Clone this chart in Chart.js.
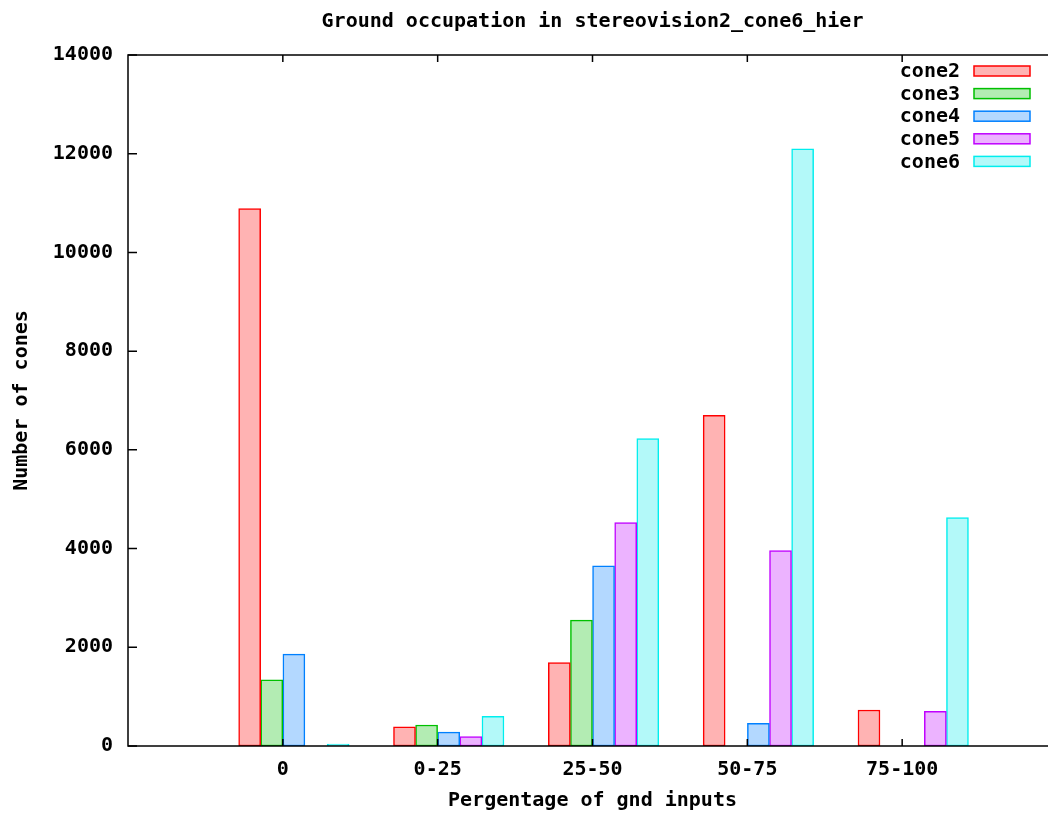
<!DOCTYPE html>
<html>
<head>
<meta charset="utf-8">
<script src="https://cdn.jsdelivr.net/npm/chart.js@4.4.0/dist/chart.umd.min.js"></script>
<style>
  html, body { margin: 0; padding: 0; overflow: hidden; background: #fff; }
  #wrap { width: 1060px; height: 817px; }
</style>
</head>
<body>
<div id="wrap"><canvas id="myChart"></canvas></div>
<script>
// data
let categories = ['0', '0-25', '25-50', '50-75', '75-100'];
let seriesNames = ['cone2', 'cone3', 'cone4', 'cone5', 'cone6'];
let cone2 = [10890, 390, 1690, 6700, 730];
let cone3 = [1340, 425, 2550, 0, 0];
let cone4 = [1860, 280, 3650, 460, 0];
let cone5 = [0, 190, 4525, 3960, 700];
let cone6 = [40, 600, 6230, 12100, 4630];
let yTicks = [0, 2000, 4000, 6000, 8000, 10000, 12000, 14000];

let seriesValues = [cone2, cone3, cone4, cone5, cone6];
let lineColors = ['#ff0000', '#00c000', '#0080ff', '#c000ff', '#00eeee'];
let fillColors = ['#ffb3b3', '#b3ecb3', '#b3d8ff', '#ecb3ff', '#b3f9f9'];

const font = { family: "'DejaVu Sans Mono', monospace", size: 20, weight: 'bold', lineHeight: 1.2 };

// gnuplot clustered histogram: 5 boxes + gap of 2 per unit
let datasets = seriesNames.map(function (name, k) {
    return {
        label: name,
        data: seriesValues[k].map((v, i) => ({ x: i + (k - 1.5) / 7, y: v })),
        backgroundColor: fillColors[k],
        borderColor: lineColors[k],
        borderWidth: 1.5,
        borderSkipped: false,
        grouped: false,
        barThickness: 22
    };
});

// box around the plot with inward ticks on all sides
const framePlugin = {
    id: 'frame',
    afterDatasetsDraw(chart) {
        const { ctx, chartArea: a, scales } = chart;
        ctx.save();
        ctx.strokeStyle = '#000';
        ctx.lineWidth = 1.5;
        ctx.beginPath();
        yTicks.forEach(function (v) {
            let py = scales.y.getPixelForValue(v);
            ctx.moveTo(a.left, py); ctx.lineTo(a.left + 9, py);
            ctx.moveTo(a.right, py); ctx.lineTo(a.right - 9, py);
        });
        categories.forEach(function (c, i) {
            let px = scales.x.getPixelForValue(i);
            ctx.moveTo(px, a.bottom); ctx.lineTo(px, a.bottom - 7);
            ctx.moveTo(px, a.top); ctx.lineTo(px, a.top + 7);
        });
        ctx.stroke();
        ctx.strokeRect(a.left, a.top, a.right - a.left, a.bottom - a.top);
        ctx.restore();
    }
};

// gnuplot style key, top right inside the plot
const keyPlugin = {
    id: 'key',
    afterDatasetsDraw(chart) {
        const { ctx, chartArea: a } = chart;
        const boxRight = a.right - 27, boxW = 56, boxH = 10;
        ctx.save();
        ctx.font = 'bold 20px "DejaVu Sans Mono"';
        ctx.textAlign = 'right';
        ctx.textBaseline = 'middle';
        ctx.fillStyle = '#000';
        chart.data.datasets.forEach(function (ds, k) {
            let cy = a.top + 16 + k * 22.6;
            ctx.fillText(ds.label, boxRight - boxW - 14, cy + 1);
            ctx.fillStyle = ds.backgroundColor;
            ctx.fillRect(boxRight - boxW, cy - boxH / 2, boxW, boxH);
            ctx.strokeStyle = ds.borderColor;
            ctx.lineWidth = 1.5;
            ctx.strokeRect(boxRight - boxW, cy - boxH / 2, boxW, boxH);
            ctx.fillStyle = '#000';
        });
        ctx.restore();
    }
};

new Chart('myChart', {
    type: 'bar',
    data: { datasets: datasets },
    options: {
        responsive: true,
        maintainAspectRatio: false,
        animation: false,
        layout: { padding: { left: 0, right: 3, top: 0, bottom: 0 } },
        plugins: {
            legend: { display: false },
            tooltip: { enabled: false },
            title: {
                display: true,
                text: 'Ground occupation in stereovision2_cone6_hier',
                fullSize: false,
                color: '#000',
                font: font,
                padding: { top: 10, bottom: 21 }
            }
        },
        scales: {
            x: {
                type: 'linear',
                min: -1,
                max: 5,
                offset: false,
                grid: { display: false, drawTicks: false, offset: false },
                border: { display: false },
                afterBuildTicks(scale) {
                    scale.ticks = categories.map((c, i) => ({ value: i }));
                },
                afterFit(scale) { scale.height = 71; },
                ticks: {
                    autoSkip: false,
                    maxRotation: 0,
                    padding: 12,
                    color: '#000',
                    font: font,
                    callback: (v) => categories[v]
                },
                title: {
                    display: true,
                    text: 'Pergentage of gnd inputs',
                    color: '#000',
                    font: font,
                    padding: { top: 0, bottom: 4 }
                }
            },
            y: {
                min: 0,
                max: 14000,
                grid: { display: false, drawTicks: false },
                border: { display: false },
                afterBuildTicks(scale) {
                    scale.ticks = yTicks.map(v => ({ value: v }));
                },
                afterFit(scale) { scale.width = 128; },
                ticks: {
                    padding: 15,
                    color: '#000',
                    font: font,
                    callback: (v) => String(v)
                },
                title: {
                    display: true,
                    text: 'Number of cones',
                    color: '#000',
                    font: font,
                    padding: { top: 10, bottom: 0 }
                }
            }
        }
    },
    plugins: [framePlugin, keyPlugin]
});
</script>
</body>
</html>
